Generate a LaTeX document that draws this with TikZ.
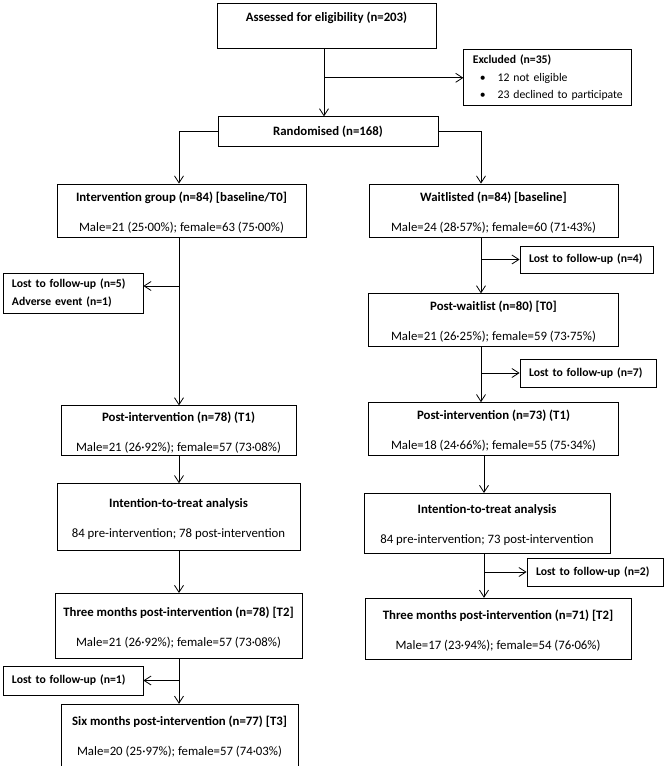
\documentclass[tikz,border=0pt]{standalone}
\usepackage{fontspec}
\setmainfont{Carlito}
\usetikzlibrary{positioning,arrows.meta}
\newcommand{\twoline}[2]{\rule{0pt}{13pt}\textbf{#1}\\[14.5pt]#2}

\begin{document}
\begin{tikzpicture}[
    x=1pt, y=-1pt, line width=0.8pt,
    font=\fontsize{12.8}{15.5}\selectfont,
    >={Straight Barb[length=7pt,width=9pt]},
    flowbox/.style={rectangle, draw, align=center, inner sep=2pt},
    lostbox/.style={rectangle, draw, align=left, inner xsep=9pt, inner ysep=2pt, font=\fontsize{11.7}{14}\selectfont},
    ]
    \useasboundingbox (0,0) rectangle (666,766);

    %Columns
    \coordinate (colM) at (324,0);
    \coordinate (colL) at (179,0);
    \coordinate (colR) at (481,0);
    \coordinate (colS) at (484,0);

    %Nodes
    \node[flowbox, minimum width=219pt, minimum height=45pt] (assess) at (326.5,25.5) {\textbf{Assessed for eligibility (n=203)}\\[2pt]~};
    \node[lostbox, inner xsep=5pt, text width=158pt, minimum height=56pt] (excl) [below right=1pt and 27pt of assess] {\hspace*{4pt}\textbf{Excluded (n=35)}\\[3.5pt]\hspace*{11pt}\textbullet\hspace{12pt}12 not eligible\\[3.5pt]\hspace*{11pt}\textbullet\hspace{12pt}23 declined to participate};
    \node[flowbox, minimum width=220pt, minimum height=30pt] (rand) [below=68pt of assess, xshift=1.5pt] {\textbf{Randomised (n=168)}};

    \node[flowbox, minimum width=249pt, minimum height=53pt] (intv) at (181.5,210.5) {\twoline{Intervention group (n=84) [baseline/T0]}{Male=21 (25·00\%); female=63 (75·00\%)}};
    \node[flowbox, minimum width=249pt, minimum height=53pt] (wait) at (493.5,210.5) {\twoline{Waitlisted (n=84) [baseline]}{Male=24 (28·57\%); female=60 (71·43\%)}};

    \node[lostbox, text width=122pt, minimum height=40pt] (lost5) at (73,293) {\textbf{Lost to follow-up (n=5)}\\[4pt]\textbf{Adverse event (n=1)}};
    \node[flowbox, minimum width=235pt, minimum height=50pt] (pint1) [below=168pt of intv, xshift=-3pt] {\twoline{Post-intervention (n=78) (T1)}{Male=21 (26·92\%); female=57 (73·08\%)}};
    \node[flowbox, minimum width=243pt, minimum height=67pt] (itt1) [below=27pt of pint1] {\twoline{Intention-to-treat analysis}{84 pre-intervention; 78 post-intervention}};
    \node[flowbox, minimum width=247pt, minimum height=65pt] (three1) [below=42pt of itt1] {\twoline{Three months post-intervention (n=78) [T2]}{Male=21 (26·92\%); female=57 (73·08\%)}};
    \node[lostbox, text width=122pt, minimum height=29pt] (lost1) at (73,680.5) {\textbf{Lost to follow-up (n=1)}};
    \node[flowbox, minimum width=237pt, minimum height=62pt] (six) [below=45pt of three1, xshift=1pt] {\twoline{Six months post-intervention (n=77) [T3]}{Male=20 (25·97\%); female=57 (74·03\%)}};

    \node[lostbox, text width=115pt, minimum height=27pt] (lost4) at (586.5,259.5) {\textbf{Lost to follow-up (n=4)}};
    \node[flowbox, minimum width=250pt, minimum height=53pt] (pwait) [below=56pt of wait] {\twoline{Post-waitlist (n=80) [T0]}{Male=21 (26·25\%); female=59 (73·75\%)}};
    \node[lostbox, text width=118pt, minimum height=28pt] (lost7) at (588,373) {\textbf{Lost to follow-up (n=7)}};
    \node[flowbox, minimum width=250pt, minimum height=53pt] (pint2) [below=55pt of pwait] {\twoline{Post-intervention (n=73) (T1)}{Male=18 (24·66\%); female=55 (75·34\%)}};
    \node[flowbox, minimum width=246pt, minimum height=60pt] (itt2) [below=37pt of pint2, xshift=-6.5pt] {\twoline{Intention-to-treat analysis}{84 pre-intervention; 73 post-intervention}};
    \node[lostbox, text width=118pt, minimum height=28pt] (lost2) at (595,572) {\textbf{Lost to follow-up (n=2)}};
    \node[flowbox, minimum width=266pt, minimum height=61pt] (three2) [below=44pt of itt2, xshift=11pt] {\twoline{Three months post-intervention (n=71) [T2]}{Male=17 (23·94\%); female=54 (76·06\%)}};

    \coordinate (l5) at ([yshift=7pt]lost5.east);

    %Lines
    \draw[->] (assess.south -| colM) -- (rand.north -| colM);
    \draw[->] (colM |- excl.west) -- (excl.west);
    \draw[->] (rand.west) -| (intv.north -| colL);
    \draw[->] (rand.east) -| (wait.north -| colR);

    \draw[->] (intv.south -| colL) -- (pint1.north -| colL);
    \draw[->] (colL |- l5) -- (l5);
    \draw[->] (pint1.south -| colL) -- (itt1.north -| colL);
    \draw[->] (itt1.south -| colL) -- (three1.north -| colL);
    \draw[->] (three1.south -| colL) -- (six.north -| colL);
    \draw[->] (colL |- lost1.east) -- (lost1.east);

    \draw[->] (wait.south -| colR) -- (pwait.north -| colR);
    \draw[->] (colR |- lost4.west) -- (lost4.west);
    \draw[->] (pwait.south -| colR) -- (pint2.north -| colR);
    \draw[->] (colR |- lost7.west) -- (lost7.west);
    \draw[->] (pint2.south -| colS) -- (itt2.north -| colS);
    \draw[->] (itt2.south -| colS) -- (three2.north -| colS);
    \draw[->] (colS |- lost2.west) -- (lost2.west);
\end{tikzpicture}
\end{document}
